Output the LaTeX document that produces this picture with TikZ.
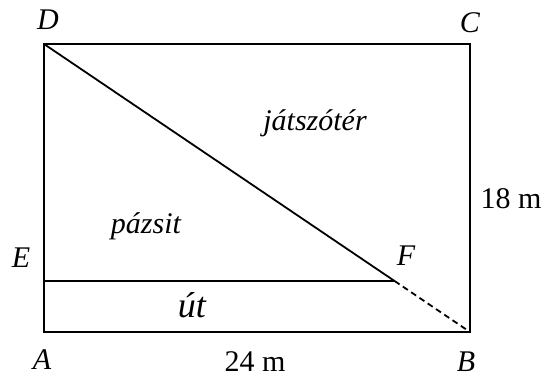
\documentclass[tikz,border=0pt]{standalone}
\usepackage{fontspec}
\setmainfont{Liberation Serif}
\usetikzlibrary{positioning,calc}

\begin{document}
\begin{tikzpicture}[
  x=1pt, y=-1pt,
  every node/.style={inner sep=0pt, anchor=base},
  ptlabel/.style={font=\fontsize{30}{36}\selectfont\itshape},
  arealabel/.style={font=\fontsize{30}{36}\selectfont\itshape},
  roadlabel/.style={font=\fontsize{36}{42}\selectfont\itshape},
  measure/.style={font=\fontsize{30}{36}\selectfont},
  edge/.style={line width=1.8pt, line join=miter},
  hidden/.style={line width=1.8pt, dash pattern=on 6pt off 4pt}
]
\useasboundingbox (0,0) rectangle (547,378);

% Corners
\coordinate (A) at (44,332);
\coordinate (B) at (470,332);
\coordinate (C) at (470,44);
\coordinate (D) at (44,44);
\coordinate (E) at (44,281);
\coordinate (F) at ($(D)!0.8229!(B)$);

% Outline
\draw[edge] (A) -- (B) -- (C) -- (D) -- cycle;
\draw[edge] (E) -- (F);
\draw[edge] (D) -- (F);
\draw[hidden] (F) -- (B);

% Point labels
\node[ptlabel] (lD) at (48,29) {D};
\node[ptlabel] (lC) at (470,32) {C};
\node[ptlabel] (lE) at (21,267) {E};
\node[ptlabel] (lF) at (406,265) {F};
\node[ptlabel] (lA) at (42,369) {A};
\node[ptlabel] (lB) at (466,371) {B};

% Areas
\node[arealabel] (play) at (315,130) {játszótér};
\node[arealabel] (lawn) at (146,233) {pázsit};
\node[roadlabel] (road) at (192,317) {út};

% Sizes
\node[measure] (wAB) at (255,371) {24 m};
\node[measure] (hBC) at (511,208) {18 m};
\end{tikzpicture}
\end{document}
